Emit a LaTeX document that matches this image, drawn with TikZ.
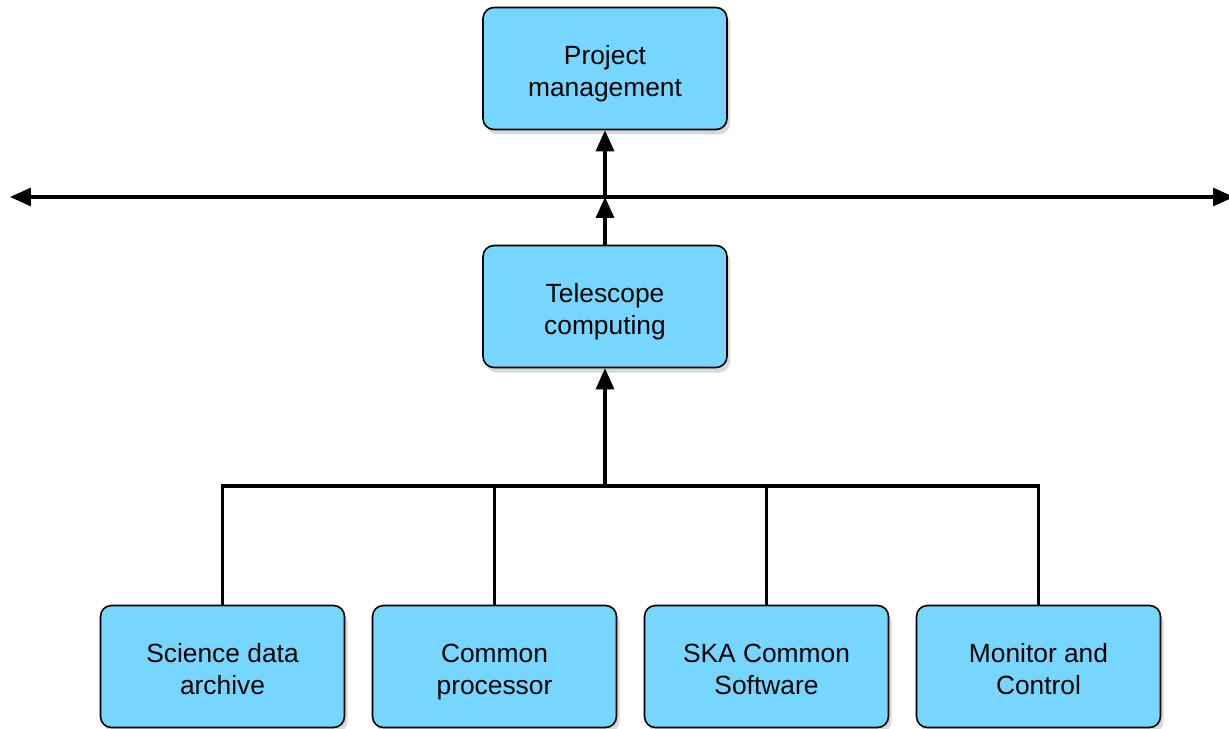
\documentclass[tikz,border=0pt]{standalone}
\usepackage{fontspec}
\setmainfont{Liberation Sans}
\usetikzlibrary{arrows.meta,shadows}
\definecolor{boxblue}{HTML}{76D6FF}
\begin{document}
\begin{tikzpicture}[
  unit/.style={draw, line width=0.9pt, fill=boxblue, rounded corners=0.22cm,
               minimum width=4.88cm, minimum height=2.44cm, align=center,
               font=\fontsize{15}{18.3}\selectfont,
               text height=1.3cm, text depth=0.19cm,
               drop shadow={shadow xshift=0.06cm, shadow yshift=-0.1cm, opacity=0.3}},
  link/.style={line width=1.8pt},
  >={Triangle[length=0.42cm,width=0.36cm]}
]
\useasboundingbox (0,0) rectangle (24.58,-14.58);
\node[unit] (pm)   at (12.10,-1.37)  {Project\\management};
\node[unit] (tc)   at (12.10,-6.13)  {Telescope\\computing};
\node[unit] (sda)  at ( 4.45,-13.33) {Science data\\archive};
\node[unit] (cp)   at ( 9.89,-13.33) {Common\\processor};
\node[unit] (scs)  at (15.33,-13.33) {SKA Common\\Software};
\node[unit] (mc)   at (20.77,-13.33) {Monitor and\\Control};

\coordinate (left)  at ( 0.20,-3.94);
\coordinate (right) at (24.68,-3.94);
\coordinate (hub)   at (12.10,-3.94);
\coordinate (bus)   at (12.10,-9.72);

\draw[link,<->] (left) -- (right);
\draw[link,->] (hub) -- (pm.south);
\draw[link,->] (tc.north) -- (hub);
\draw[link,->] (bus) -- (tc.south);
\draw[link] (sda.north) |- (bus) -| (mc.north);
\draw[link] (cp.north) -- (cp.north |- bus);
\draw[link] (scs.north) -- (scs.north |- bus);
\end{tikzpicture}
\end{document}
